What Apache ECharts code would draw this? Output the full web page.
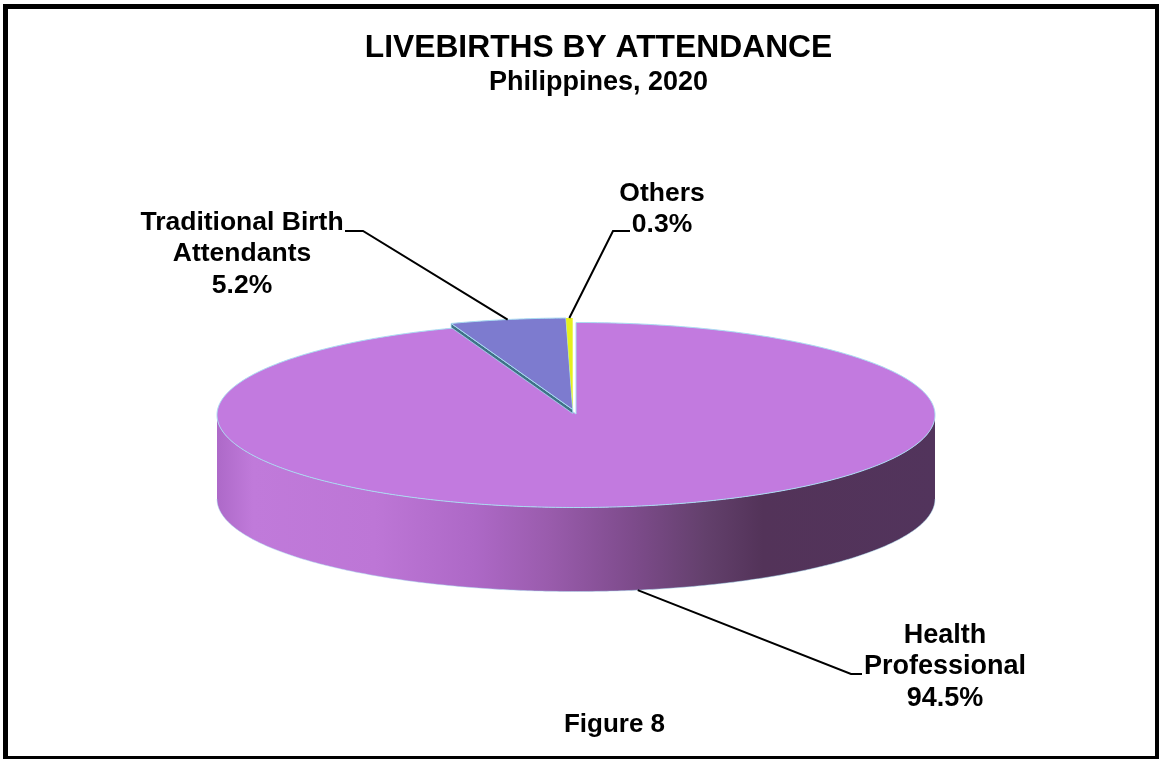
<!DOCTYPE html>
<html><head><meta charset="utf-8">
<style>html,body{margin:0;padding:0;background:#fff}#c{width:1159px;height:759px}</style>
<script src="https://cdn.jsdelivr.net/npm/echarts@6/dist/echarts.min.js"></script>
</head><body><div id="c"></div>
<script>
// ---- data ----
const categories = ['Health\nProfessional', 'Traditional Birth\nAttendants', 'Others'];
const shares = [94.5, 5.2, 0.3];
// ---- styles / layout ----
const topColors = ['#c27adf', '#7d7bcf', '#e6f01e'];
const edgeWidths = [1, 1, 0];
const FONT = '"Liberation Sans", Arial, sans-serif';
const geo = { cx: 576, cy: 415, rx: 359, ry: 92.5, depth: 84, explode: [[0, 0], [-3.3, -4.5], [-3.3, -4.5]] };
const labelLayout = [
  { x: 945, y: 667, size: 27, elbow: [851, 674], end: [862, 674], onWall: true },
  { x: 242, y: 254, size: 26.5, elbow: [363, 231], end: [345, 231] },
  { x: 662, y: 209, size: 26.5, elbow: [613, 231], end: [630, 231] }
];
const EDGE = '#a9dcf2';
const wallStops = [
  [0, '#ad69c8'], [0.05, '#c07ada'], [0.22, '#bd76d6'], [0.36, '#ad68c6'], [0.46, '#9a5cad'],
  [0.58, '#7d4b8b'], [0.68, '#63406c'], [0.76, '#533359'], [1, '#52345c']
];
const TAU = Math.PI * 2;
function pt(theta, dx, dy) {
  return [geo.cx + geo.rx * Math.sin(theta) + dx, geo.cy - geo.ry * Math.cos(theta) + dy];
}
function arc(a, b, dx, dy) {
  const n = Math.max(2, Math.ceil(Math.abs(b - a) / 0.01)), out = [];
  for (let i = 0; i <= n; i++) out.push(pt(a + (b - a) * i / n, dx, dy));
  return out;
}
function renderItem(params, api) {
  const i = params.dataIndex;
  const total = shares.reduce((s, v) => s + v, 0);
  const before = shares.slice(0, i).reduce((s, v) => s + v, 0);
  const a = before / total * TAU, b = (before + api.value(0)) / total * TAU, mid = (a + b) / 2;
  const [dx, dy] = geo.explode[i];
  const apex = [geo.cx + dx, geo.cy + dy - 1];
  const children = [];
  // front wall of the cylinder, only where the slice faces the viewer
  const w0 = Math.max(a, Math.PI / 2), w1 = Math.min(b, Math.PI * 1.5);
  if (w1 > w0) {
    const topEdge = arc(w0, w1, dx, dy), lowEdge = arc(w1, w0, dx, dy + geo.depth);
    children.push({ type: 'polygon', shape: { points: topEdge.concat(lowEdge) }, style: {
      fill: new echarts.graphic.LinearGradient(0, 0, 1, 0, wallStops.map(s => ({ offset: s[0], color: s[1] }))), stroke: null } });
    children.push({ type: 'polyline', shape: { points: lowEdge }, style: { fill: null, stroke: EDGE, lineWidth: 1, opacity: 0.5 } });
  }
  // thin cut face of the raised slice
  if (i === 1) {
    const p = pt(a, dx, dy);
    children.push({ type: 'polygon', shape: { points: [apex, p, [p[0], p[1] + 4], [apex[0], apex[1] + 4]] },
      style: { fill: '#3f7286', stroke: EDGE, lineWidth: 0.8 } });
  }
  // top face
  children.push({ type: 'polygon', shape: { points: [apex].concat(arc(a, b, dx, dy)) },
    style: { fill: topColors[i], stroke: edgeWidths[i] ? EDGE : null, lineWidth: edgeWidths[i], lineJoin: 'round' } });
  // leader and label
  const L = labelLayout[i];
  const from = pt(mid, dx, dy + (L.onWall ? geo.depth : 0));
  children.push({ type: 'polyline', z2: 20, shape: { points: [from, L.elbow, L.end] },
    style: { fill: null, stroke: '#000', lineWidth: 2 } });
  children.push({ type: 'text', z2: 20, x: L.x, y: L.y, style: {
    text: categories[i] + '\n' + api.value(0).toFixed(1) + '%', fill: '#000',
    font: 'bold ' + L.size + 'px ' + FONT, lineHeight: 31.5, textAlign: 'center', textVerticalAlign: 'middle' } });
  return { type: 'group', children };
}
const chart = echarts.init(document.getElementById('c'), null, { renderer: 'canvas' });
chart.setOption({
  animation: false,
  backgroundColor: '#fff',
  title: {
    text: 'LIVEBIRTHS BY ATTENDANCE', subtext: 'Philippines, 2020',
    left: 593.5, top: 27, textAlign: 'center', itemGap: 5,
    textStyle: { fontFamily: FONT, fontWeight: 'bold', fontSize: 31.8, color: '#000' },
    subtextStyle: { fontFamily: FONT, fontWeight: 'bold', fontSize: 27, color: '#000' }
  },
  graphic: [
    { type: 'rect', z: -1, silent: true, shape: { x: 5.5, y: 6.5, width: 1152, height: 752 }, style: { fill: '#fff', stroke: '#000', lineWidth: 5 } },
    { type: 'text', x: 614.5, y: 725, silent: true, style: { text: 'Figure 8', font: 'bold 26px ' + FONT, fill: '#000', textAlign: 'center', textVerticalAlign: 'middle' } }
  ],
  series: [{
    type: 'custom', coordinateSystem: 'none', renderItem, silent: true, clip: false,
    data: categories.map((n, i) => ({ name: n.replace('\n', ' '), value: [shares[i]] }))
  }]
});
</script></body></html>
